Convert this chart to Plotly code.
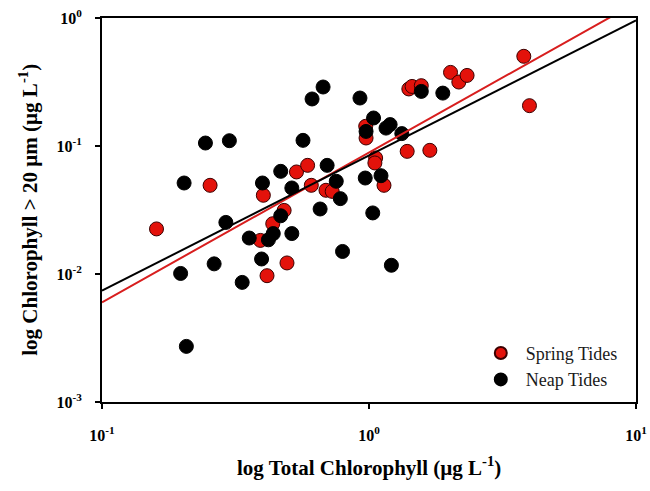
import plotly.graph_objects as go
import numpy as np

# Spring tides (red)
spring_total = [0.160, 0.254, 0.402, 0.392, 0.415, 0.436, 0.481, 0.493, 0.535, 0.589,
                0.608, 0.690, 0.728, 0.972, 0.975, 1.059, 1.052, 1.138, 1.39, 1.41,
                1.45, 1.57, 1.69, 2.02, 2.17, 2.33, 3.80, 3.99]
spring_large = [0.0225, 0.0493, 0.0412, 0.0183, 0.0097, 0.0247, 0.0314, 0.0122, 0.0627, 0.0706,
                0.0493, 0.0451, 0.0442, 0.1425, 0.1155, 0.0806, 0.0737, 0.0493, 0.0908, 0.279,
                0.292, 0.296, 0.0925, 0.376, 0.316, 0.356, 0.502, 0.2066]

# Neap tides (black)
neap_total = [0.203, 0.197, 0.207, 0.244, 0.300, 0.291, 0.263, 0.335, 0.356, 0.399,
              0.396, 0.420, 0.438, 0.467, 0.467, 0.514, 0.514, 0.566, 0.612, 0.673,
              0.656, 0.697, 0.754, 0.781, 0.796, 0.925, 0.975, 0.968, 1.040, 1.033,
              1.109, 1.158, 1.20, 1.213, 1.327, 1.57, 1.89]
neap_large = [0.0514, 0.0101, 0.00272, 0.1055, 0.110, 0.0253, 0.0120, 0.0086, 0.0191, 0.0514,
              0.0131, 0.0185, 0.0207, 0.0634, 0.0285, 0.0470, 0.0207, 0.1107, 0.233, 0.289,
              0.0322, 0.0706, 0.053, 0.0388, 0.0150, 0.237, 0.130, 0.0562, 0.1655, 0.030,
              0.0586, 0.138, 0.147, 0.0117, 0.125, 0.267, 0.259]

# Regression lines: log10(y) = slope*log10(x) + intercept
spring_fit = [1.170, -1.051]
neap_fit = [1.056, -1.074]

x_ticks = [0.1, 1, 10]
x_tick_text = ["10<sup>-1</sup>", "10<sup>0</sup>", "10<sup>1</sup>"]
y_ticks = [0.001, 0.01, 0.1, 1]
y_tick_text = ["10<sup>-3</sup>", "10<sup>-2</sup>", "10<sup>-1</sup>", "10<sup>0</sup>"]

def fit_line(p):
    lx = np.linspace(-1, 1, 200)
    ly = p[0] * lx + p[1]
    return 10 ** lx, 10 ** ly

fig = go.Figure()

fig.add_trace(go.Scatter(
    x=spring_total, y=spring_large, mode="markers", name="Spring Tides",
    marker=dict(size=14, color="#e3120b", line=dict(color="#3a0000", width=1)),
))
fig.add_trace(go.Scatter(
    x=neap_total, y=neap_large, mode="markers", name="Neap Tides",
    marker=dict(size=14, color="#000000", line=dict(color="#000000", width=1)),
))

sx, sy = fit_line(spring_fit)
nx, ny = fit_line(neap_fit)
fig.add_trace(go.Scatter(x=sx, y=sy, mode="lines", line=dict(color="#d81e1e", width=2),
                         showlegend=False, hoverinfo="skip"))
fig.add_trace(go.Scatter(x=nx, y=ny, mode="lines", line=dict(color="#000000", width=2),
                         showlegend=False, hoverinfo="skip"))

serif = "Liberation Serif"

fig.update_xaxes(
    type="log", range=[-1, 1], automargin=False,
    tickvals=x_ticks, ticktext=["<b>%s</b>" % t for t in x_tick_text],
    tickfont=dict(family=serif, size=16, color="black"),
    ticks="outside", ticklen=5, tickwidth=1.5, tickcolor="black",
    ticklabelstandoff=13,
    showline=True, linecolor="black", linewidth=2, mirror=True,
    showgrid=False, zeroline=False,
)
fig.update_yaxes(
    type="log", range=[-3, 0], automargin=False,
    tickvals=y_ticks, ticktext=["<b>%s</b>" % t for t in y_tick_text],
    tickfont=dict(family=serif, size=16, color="black"),
    ticks="outside", ticklen=5, tickwidth=1.5, tickcolor="black",
    ticklabelstandoff=10,
    showline=True, linecolor="black", linewidth=2, mirror=True,
    showgrid=False, zeroline=False,
)

fig.add_annotation(
    text="<b>log Total Chlorophyll (µg L<sup>-1</sup>)</b>",
    xref="paper", yref="paper", x=0.5, y=-0.169, xanchor="center", yanchor="middle",
    showarrow=False, font=dict(family=serif, size=21, color="black"),
)
fig.add_annotation(
    text="<b>log Chlorophyll > 20 µm (µg L<sup>-1</sup>)</b>",
    xref="paper", yref="paper", x=-0.139, y=0.5, xanchor="center", yanchor="middle",
    textangle=-90, showarrow=False, font=dict(family=serif, size=21, color="black"),
)

fig.update_layout(
    width=650, height=491,
    margin=dict(l=102, r=14, t=18, b=89),
    plot_bgcolor="white", paper_bgcolor="white",
    showlegend=True,
    legend=dict(
        x=0.70, y=0.175, xanchor="left", yanchor="top",
        font=dict(family=serif, size=18, color="#1a1a1a"),
        bgcolor="rgba(0,0,0,0)", itemsizing="constant", itemwidth=40,
        tracegroupgap=0,
    ),
)

fig.write_html("out.html", post_script="document.body.style.margin='0px';",
               config={"displayModeBar": False})
